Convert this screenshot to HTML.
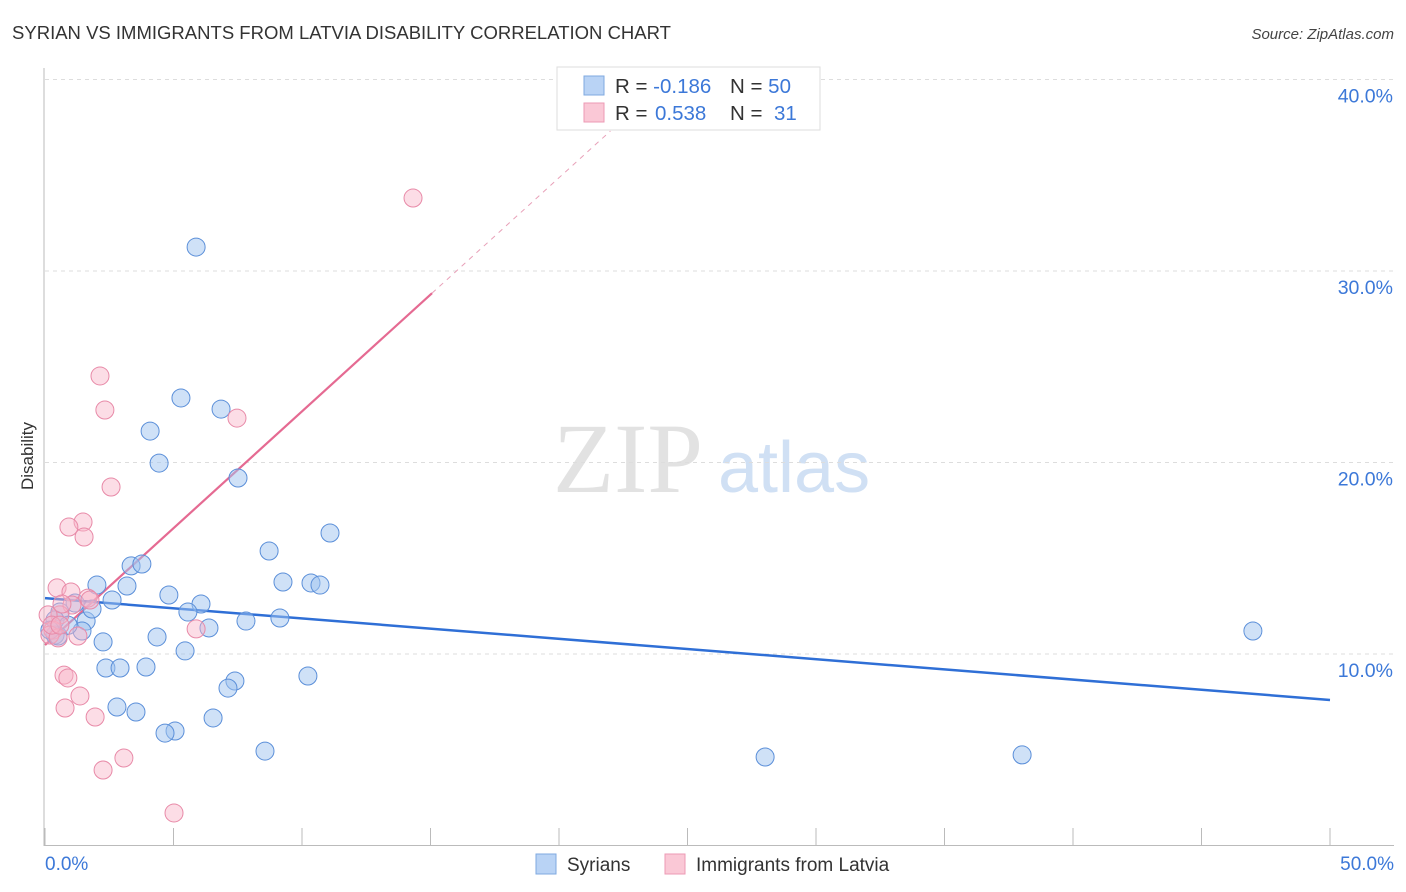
<!DOCTYPE html>
<html><head><meta charset="utf-8"><style>
body{margin:0;background:#fff;font-family:"Liberation Sans",sans-serif;}
svg{display:block}
</style></head><body>
<svg id="chart" width="1406" height="892" xmlns="http://www.w3.org/2000/svg" font-family="Liberation Sans, sans-serif">
<text x="12" y="39" font-size="18" fill="#333" textLength="659" lengthAdjust="spacingAndGlyphs">SYRIAN VS IMMIGRANTS FROM LATVIA DISABILITY CORRELATION CHART</text>
<text x="1394" y="39" font-size="15" fill="#444" text-anchor="end" font-style="italic">Source: ZipAtlas.com</text>
<g>
<text x="553" y="492" font-size="100" font-family="Liberation Serif, serif" fill="#e2e2e2">ZIP</text>
<text x="718" y="492" font-size="72" fill="#d0e0f4">atlas</text>
</g>
<g id="grid"></g>
<g id="axes"></g>
<g id="trends"></g>
<g id="points"></g>
<text transform="translate(33,456) rotate(-90)" font-size="17" fill="#333" text-anchor="middle">Disability</text>
<g>
<rect x="557" y="67" width="263" height="63" fill="#fff" stroke="#ddd"/>
<rect x="584" y="76" width="20" height="19" fill="#b9d3f5" stroke="#7fa9e0"/>
<rect x="584" y="103" width="20" height="19" fill="#fac8d6" stroke="#ec9ab4"/>
<text x="615" y="93" font-size="20.5" fill="#333">R = <tspan fill="#3c78d8">-0.186</tspan></text>
<text x="730" y="93" font-size="20.5" fill="#333">N = <tspan fill="#3c78d8">50</tspan></text>
<text x="615" y="120" font-size="20.5" fill="#333">R = <tspan fill="#3c78d8" x="655">0.538</tspan></text>
<text x="730" y="120" font-size="20.5" fill="#333">N = <tspan fill="#3c78d8" x="774">31</tspan></text>
</g>
<g>
<rect x="536" y="854" width="20" height="20" fill="#b9d3f5" stroke="#7fa9e0"/>
<text x="567" y="871" font-size="19" fill="#333">Syrians</text>
<rect x="665" y="854" width="20" height="20" fill="#fac8d6" stroke="#ec9ab4"/>
<text x="696" y="871" font-size="19" fill="#333">Immigrants from Latvia</text>
</g>
</svg>
<script>
const yTicks=[10,20,30,40];
const yTickLabels=["10.0%","20.0%","30.0%","40.0%"];
const xTickLabels=["0.0%","50.0%"];
const blueX=[5.88,5.29,6.85,4.09,4.44,7.51,11.09,8.72,3.35,3.77,9.26,10.35,10.70,2.02,3.19,4.82,2.61,6.07,5.56,7.82,9.14,6.38,1.60,1.83,1.17,0.58,1.44,4.36,2.26,5.45,2.37,2.92,3.93,10.23,7.39,7.12,2.80,3.54,6.54,5.06,4.67,8.56,28.02,38.02,47.00,0.39,0.39,0.51,0.19,0.9];
const blueY=[31.25,23.37,22.79,21.64,19.97,19.19,16.32,15.38,14.60,14.70,13.76,13.71,13.60,13.60,13.55,13.08,12.82,12.61,12.19,11.72,11.88,11.36,11.72,12.35,12.66,12.19,11.20,10.89,10.63,10.16,9.27,9.27,9.32,8.85,8.59,8.22,7.23,6.97,6.66,5.98,5.87,4.93,4.62,4.73,11.20,11.78,10.99,10.94,11.25,11.5];
const pinkX=[14.32,2.14,2.33,7.47,2.57,1.48,0.93,1.52,0.47,1.01,1.67,1.05,0.58,0.12,0.31,0.19,0.51,1.28,5.88,0.74,0.89,1.36,0.78,1.95,2.26,3.07,5.02,0.66,1.75,0.27,0.58];
const pinkY=[33.81,24.52,22.74,22.32,18.72,16.89,16.63,16.11,13.45,13.24,12.92,12.56,12.04,12.04,11.25,10.99,10.84,10.94,11.31,8.90,8.75,7.81,7.18,6.71,3.94,4.57,1.70,12.61,12.82,11.51,11.51];
const blueTrend=[12.92,7.60];
const pinkTrend=[10.47,1.22];
const NS="http://www.w3.org/2000/svg";
const X=v=>45+v*25.7, Y=v=>845.5-v*19.15;
function mk(tag,attrs,parent){const e=document.createElementNS(NS,tag);for(const k in attrs)e.setAttribute(k,attrs[k]);parent.appendChild(e);return e;}
const grid=document.getElementById('grid'),axes=document.getElementById('axes'),trends=document.getElementById('trends'),pts=document.getElementById('points');
yTicks.forEach((t,i)=>{
 const l=mk('line',{x1:45,x2:1394,y1:Y(t),y2:Y(t),stroke:'#ddd','stroke-dasharray':'4,4'},grid);
 
 
 const tx=mk('text',{x:1393,y:Y(t)+23,'font-size':19.5,fill:'#3c78d8','text-anchor':'end'},axes);
 tx.textContent=yTickLabels[i];
 
 
});
mk('line',{x1:44,x2:44,y1:68,y2:846,stroke:'#bbb'},axes);
mk('line',{x1:44,x2:1394,y1:845.5,y2:845.5,stroke:'#bbb'},axes);
for(let i=0;i<=10;i++){const x=X(i*5);mk('line',{x1:x,x2:x,y1:828,y2:845,stroke:'#bbb'},axes);}
[[0,45,'start'],[50,1394,'end']].forEach((a,i)=>{const t=mk('text',{x:a[1],y:870,'font-size':19,fill:'#3c78d8','text-anchor':a[2]},axes);t.textContent=xTickLabels[i];
 
 });
const bl=mk('line',{x1:X(0),y1:Y(blueTrend[0]),x2:X(50),y2:Y(blueTrend[1]),stroke:'#2f6fd6','stroke-width':2.5},trends);


const pe=15.06;
const pl=mk('line',{x1:X(0),y1:Y(pinkTrend[0]),x2:X(pe),y2:Y(pinkTrend[0]+pinkTrend[1]*pe),stroke:'#e56a92','stroke-width':2.2},trends);


const pd=mk('line',{x1:X(pe),y1:Y(pinkTrend[0]+pinkTrend[1]*pe),x2:X(22),y2:Y(pinkTrend[0]+pinkTrend[1]*22),stroke:'#e8a0b8','stroke-width':1,'stroke-dasharray':'5,5'},trends);


blueX.forEach((v,i)=>{const c=mk('circle',{cx:X(v),cy:Y(blueY[i]),r:9,fill:'rgba(160,196,240,0.5)',stroke:'#5b8fd9','stroke-width':1},pts);
 
 });
pinkX.forEach((v,i)=>{const c=mk('circle',{cx:X(v),cy:Y(pinkY[i]),r:9,fill:'rgba(248,180,200,0.45)',stroke:'#e88aa8','stroke-width':1},pts);
 
 });
</script>
</body></html>
